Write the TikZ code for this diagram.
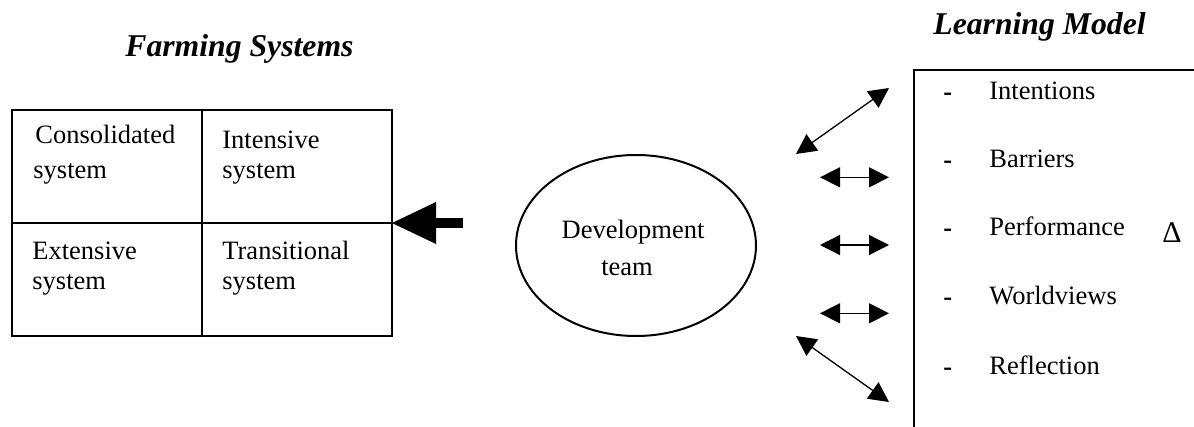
\documentclass[tikz,border=0pt]{standalone}
\usepackage{fontspec}
\setmainfont{Liberation Serif}
\usetikzlibrary{arrows.meta,shapes.geometric}
\begin{document}
\begin{tikzpicture}[x=0.5pt,y=-0.5pt,
  body/.style={font=\fontsize{13.25pt}{16pt}\selectfont, inner sep=0pt, anchor=base west},
  heading/.style={font=\fontsize{15.85pt}{19pt}\selectfont\bfseries\itshape, inner sep=0pt, anchor=base west},
  cell/.style={draw, line width=1pt, minimum width=95pt, minimum height=56.25pt, inner sep=0pt, outer sep=0pt, anchor=north west},
  link/.style={line width=0.65pt, {Triangle[length=10pt,width=10pt]}-{Triangle[length=10pt,width=10pt]}},
  push/.style={line width=5pt, -{Triangle[length=22pt,width=21pt,line width=0pt]}},
  bullet/.style={font=\fontsize{13.25pt}{16pt}\selectfont\bfseries, inner sep=0pt, anchor=base west}
]
\useasboundingbox (0,0) rectangle (1194,427);

% headings
\node[heading] (fsTitle) at (125,57) {Farming Systems};
\node[heading] (lmTitle) at (933,35) {Learning Model};

% farming systems grid
\node[cell] (cons)  at (12,110.5) {};
\node[cell] (inten) at (202,110.5) {};
\node[cell] (ext)   at (12,223) {};
\node[cell] (trans) at (202,223) {};

\node[body] (consA)  at (35,144) {Consolidated};
\node[body] (consB)  at (33,179) {system};
\node[body] (intenA) at (222,149) {Intensive};
\node[body] (intenB) at (222,179) {system};
\node[body] (extA)   at (32,260) {Extensive};
\node[body] (extB)   at (32,290) {system};
\node[body] (transA) at (222,260) {Transitional};
\node[body] (transB) at (222,290) {system};

% development team
\node[ellipse, draw, line width=1pt, minimum width=120pt, minimum height=90.5pt, inner sep=0pt] (dev) at (636,245.5) {};
\node[body, anchor=base] (devA) at (633,239) {Development};
\node[body, anchor=base] (devB) at (627,276) {team};

% block arrow into the grid
\coordinate (pushTail) at (463,223);
\draw[push] (pushTail) -- (inten.south east);

% learning model panel
\node[draw, line width=1pt, minimum width=150pt, minimum height=200pt, inner sep=0pt, anchor=north west] (lm) at (912.5,69.5) {};

\foreach \name/\txt/\yb in {i1/Intentions/99.3, i2/Barriers/167.3, i3/Performance/236, i4/Worldviews/305, i5/Reflection/374}{
  \node[bullet] (\name d) at (943,\yb+1) {-};
  \node[body] (\name) at (989,\yb) {\txt};
}
\node[body, font=\fontsize{15pt}{18pt}\selectfont] (delta) at (1162,243) {Δ};

% two-way links
\coordinate (a1) at (796,154); \coordinate (b1) at (889,88);
\coordinate (a2) at (820,177.3); \coordinate (b2) at (889,177.3);
\coordinate (a3) at (820,245); \coordinate (b3) at (889,245);
\coordinate (a4) at (820,313.3); \coordinate (b4) at (889,313.3);
\coordinate (a5) at (796,336); \coordinate (b5) at (889,402);
\foreach \k in {1,...,5}{
  \draw[link] (a\k) -- (b\k);
}
\end{tikzpicture}
\end{document}
